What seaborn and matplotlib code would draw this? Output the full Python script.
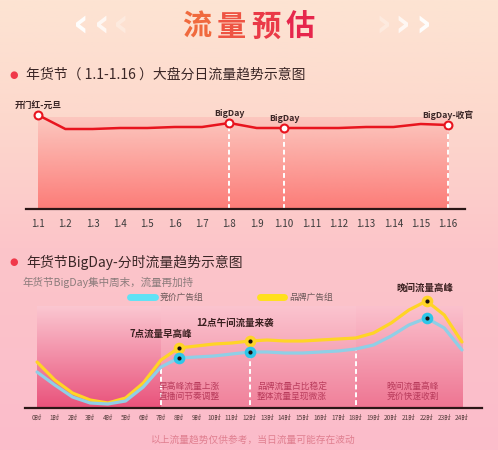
import numpy as np
import pandas as pd
import seaborn as sns
import matplotlib.pyplot as plt
from matplotlib.colors import to_rgb
from matplotlib.lines import Line2D

# ---- data: daily traffic 1.1-1.16 ----
days = ["1.1", "1.2", "1.3", "1.4", "1.5", "1.6", "1.7", "1.8",
        "1.9", "1.10", "1.11", "1.12", "1.13", "1.14", "1.15", "1.16"]
day_flow = [94, 80, 80, 81, 81, 82, 82, 86, 81, 81, 81, 81, 82, 82, 85, 84]
day_notes = {"1.1": "开门红-元旦", "1.8": "BigDay", "1.10": "BigDay", "1.16": "BigDay-收官"}
day_dashed = ["1.8", "1.10", "1.16"]

# ---- data: hourly traffic on BigDay ----
hours = list(range(25))
hour_labels = [f"{h}时" for h in hours]
brand_flow = [46, 28, 15, 8, 5, 10, 25, 48, 60, 62, 64, 65, 67, 68, 67, 67,
              68, 69, 70, 75, 85, 98, 107, 93, 66]
bid_flow = [36, 23, 11, 5, 4, 7, 21, 41, 50, 51, 52, 54, 56, 56, 55, 55,
            56, 57, 59, 63, 72, 83, 90, 80, 58]
peak_hours = [8, 12, 22]
split_hours = [7, 12, 18]
peak_notes = [(7, 74, "7点流量早高峰"), (11.2, 85, "12点午间流量来袭"), (21.9, 120, "晚间流量高峰")]
band_notes = [(8.6, "早高峰流量上涨\n直播间节奏调整"),
              (14.4, "品牌流量占比稳定\n整体流量呈现微涨"),
              (21.2, "晚间流量高峰\n竞价快速收割")]

W, H = 498, 450


def fx(x):
    return x / W


def fy(y):
    return 1 - y / H


def vgrad(stops, n=200):
    # stops: list of (pos, colour) from top to bottom
    pos = [p for p, _ in stops]
    cols = np.array([to_rgb(c) for _, c in stops])
    t = np.linspace(0, 1, n)
    arr = np.stack([np.interp(t, pos, cols[:, k]) for k in range(3)], axis=1)
    return arr[:, None, :]


sns.set_theme(style="white")
plt.rcParams['font.family'] = ['Noto Sans CJK SC', 'DejaVu Sans']

fig = plt.figure(figsize=(W / 100, H / 100), dpi=100)

# page background
bg = fig.add_axes([0, 0, 1, 1])
bg.imshow(vgrad([(0, "#fde4d3"), (0.25, "#fdd9cd"), (0.55, "#fcc5c9"), (1, "#fbbccb")]),
          aspect="auto", extent=[0, 1, 0, 1])
bg.set_xlim(0, 1)
bg.set_ylim(0, 1)
bg.axis("off")

# title with chevrons
title_cols = ["#f06a3e", "#ee5443", "#ea3a47", "#e6264c"]
for ch, x, c in zip("流量预估", [197, 231, 266, 300], title_cols):
    fig.text(fx(x), fy(27), ch, ha="center", va="center", fontsize=21,
             fontweight="bold", color=c)
for x, a in zip([81, 102, 121], [0.95, 0.75, 0.3]):
    fig.text(fx(x), fy(25), "‹", ha="center", va="center", fontsize=28,
             fontweight="bold", color="white", alpha=a, family="DejaVu Sans")
for x, a in zip([383, 402, 423], [0.3, 0.75, 0.95]):
    fig.text(fx(x), fy(25), "›", ha="center", va="center", fontsize=28,
             fontweight="bold", color="white", alpha=a, family="DejaVu Sans")

# section headings
for y, txt in [(75, "年货节（ 1.1-1.16 ）大盘分日流量趋势示意图"),
               (262, "年货节BigDay-分时流量趋势示意图")]:
    fig.text(fx(14), fy(y), "●", ha="center", va="center", fontsize=7,
             color="#f0394a", family="DejaVu Sans")
    fig.text(fx(26), fy(y), txt, ha="left", va="center", fontsize=10,
             color="#3a2626")
fig.text(fx(22), fy(282), "年货节BigDay集中周末，流量再加持", ha="left", va="center",
         fontsize=7.6, color="#8c7c7c")
fig.text(fx(253), fy(440), "以上流量趋势仅供参考，当日流量可能存在波动", ha="center",
         va="center", fontsize=7, color="#e07f90")

# ---- top chart ----
ax1 = fig.add_axes([fx(26), fy(209), fx(465 - 26), 109 / H])
ax1.patch.set_alpha(0)
xd = np.arange(len(days))
ax1.imshow(vgrad([(0, "#fcc7bf"), (1, "#fc7c78")]), aspect="auto",
           extent=[xd[0], xd[-1], 0, 92], zorder=0)
sns.lineplot(x=xd, y=day_flow, ax=ax1, color="#e8141e", lw=1.8, zorder=3)
for d in day_dashed:
    i = days.index(d)
    ax1.vlines(i, 0, day_flow[i], colors="white", linestyles=(0, (2.5, 1.5)),
               lw=1.4, zorder=2)
for d, note in day_notes.items():
    i = days.index(d)
    ax1.scatter(i, day_flow[i], s=32, facecolor="white", edgecolor="#e8141e",
                lw=1.5, zorder=5)
    ax1.text(i, day_flow[i] + 5, note, ha="center", va="bottom", fontsize=6.3,
             fontweight="bold", color="#3a2626")
ax1.set_xlim(-0.44, 15.62)
ax1.set_ylim(0, 109)
ax1.set_xticks(xd)
ax1.set_xticklabels(days)
ax1.set_yticks([])
ax1.tick_params(axis="x", length=0, pad=7, labelsize=7, colors="#3a3a3a")
for s in ["top", "left", "right"]:
    ax1.spines[s].set_visible(False)
ax1.spines["bottom"].set_color("#2a1616")
ax1.spines["bottom"].set_linewidth(1.6)

# ---- bottom chart ----
ax2 = fig.add_axes([fx(25), fy(408), fx(482 - 25), 128 / H])
ax2.patch.set_alpha(0)
ax2.imshow(vgrad([(0, "#fbc7d1"), (1, "#e9527b")]), aspect="auto",
           extent=[0, 7, 0, 102], zorder=0)
ax2.imshow(vgrad([(0, "#fbc4cf"), (1, "#f0809a")]), aspect="auto",
           extent=[7, 18, 0, 102], zorder=0)
ax2.imshow(vgrad([(0, "#fbc1cd"), (1, "#ee7592")]), aspect="auto",
           extent=[18, 24, 0, 102], zorder=0)

df = pd.DataFrame({
    "hour": hours * 2,
    "flow": brand_flow + bid_flow,
    "group": ["品牌广告组"] * len(hours) + ["竞价广告组"] * len(hours),
})
sns.lineplot(data=df, x="hour", y="flow", hue="group",
             palette={"品牌广告组": "#ffd426", "竞价广告组": "#8fcfe6"},
             lw=2.3, ax=ax2, legend=False, zorder=3)

for h in split_hours:
    ax2.vlines(h, 3, bid_flow[h], colors="white", linestyles=(0, (2.5, 1.5)),
               lw=1.4, zorder=2)
ax2.scatter(peak_hours, [brand_flow[h] for h in peak_hours], s=70, c="#ffd426",
            zorder=5, lw=0)
ax2.scatter(peak_hours, [bid_flow[h] for h in peak_hours], s=70, c="#2ec6e8",
            zorder=5, lw=0)
ax2.scatter(peak_hours * 2, [brand_flow[h] for h in peak_hours] + [bid_flow[h] for h in peak_hours],
            s=9, c="#1a1010", zorder=6, lw=0)

for x, y, note in peak_notes:
    ax2.text(x, y, note, ha="center", va="center", fontsize=6.8,
             fontweight="bold", color="#3a2020")
for x, note in band_notes:
    ax2.text(x, 17, note, ha="center", va="center", fontsize=6.3,
             color="#b93c5c", linespacing=1.15)

handles = [Line2D([], [], color="#5fe2f5", lw=5), Line2D([], [], color="#ffe01c", lw=5)]
ax2.legend(handles, ["竞价广告组", "品牌广告组"], loc="upper left",
           bbox_to_anchor=(fx(130), fy(293)), bbox_transform=fig.transFigure,
           ncol=2, frameon=False, fontsize=6.3, handlelength=2.8,
           handletextpad=0.6, columnspacing=6.4, borderpad=0, borderaxespad=0,
           labelcolor="#6a5858")

ax2.set_xlim(-0.68, 25.13)
ax2.set_ylim(0, 128)
ax2.set_xticks(hours)
ax2.set_xticklabels(hour_labels)
ax2.set_yticks([])
ax2.set_xlabel("")
ax2.set_ylabel("")
ax2.tick_params(axis="x", length=0, pad=4, labelsize=4.8, colors="#5a4040")
for s in ["top", "left", "right"]:
    ax2.spines[s].set_visible(False)
ax2.spines["bottom"].set_color("#2a1616")
ax2.spines["bottom"].set_linewidth(1.6)

fig.savefig("out.png", dpi=100)
